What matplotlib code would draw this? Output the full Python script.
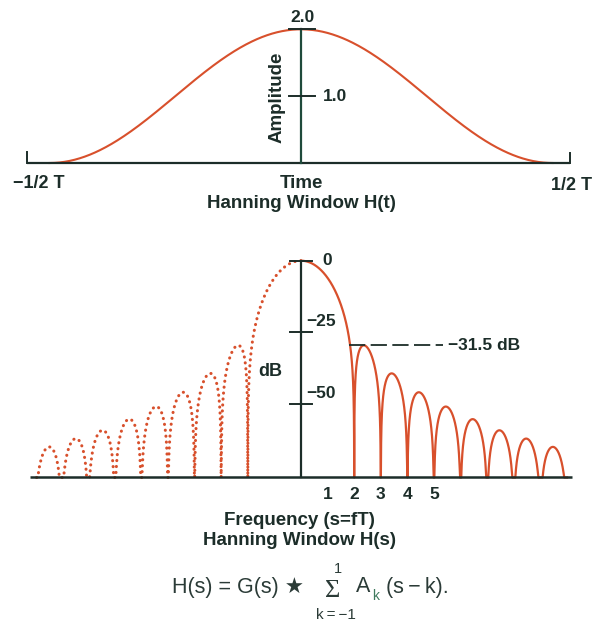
import numpy as np
import matplotlib.pyplot as plt

plt.rcParams['font.family'] = ['Liberation Sans', 'DejaVu Sans']

# values
window_peak = 2.0                 # H(t) = 1 + cos(2 pi t / T), T = 1
amp_ticks = [1.0, 2.0]
amp_tick_labels = ["1.0", "2.0"]
db_ticks = [0, -25, -50]
db_tick_labels = ["0", "\u221225", "\u221250"]
freq_ticks = [1, 2, 3, 4, 5]
k_terms = [-1, 0, 1]
a_k = [0.25, 0.5, 0.25]           # H(s) = G(s) * sum A_k (s - k)
lobe_zeros = [2, 3, 4, 5, 6, 7, 8, 9, 10]
sidelobe_peaks_db = [-29.6, -39.4, -46.0, -51.0, -55.4, -59.3, -62.2, -65.1]
floor_db = -75.8
sidelobe_label = "\u221231.5 dB"

ORANGE = "#d8502c"
DARK = "#1c2d29"
GREEN = "#1f4a3b"
FORM = "#2b3b37"


def hanning_db(s):
    w = sum(a * np.sinc(s - k) for a, k in zip(a_k, k_terms))
    w0 = sum(a * np.sinc(-k) for a, k in zip(a_k, k_terms))
    with np.errstate(divide="ignore"):
        return 20 * np.log10(np.abs(w) / w0 + 1e-30)


fig = plt.figure(figsize=(6, 6.25), dpi=100)

# ---------------- top: time window ----------------
ax1 = fig.add_axes([0, 1 - 215 / 625, 1, 215 / 625])
ax1.set_xlim(-301 / 503, 299 / 503)
ax1.set_ylim(-52 / 66.85, 163 / 66.85)
ax1.axis("off")

t = np.linspace(-0.5, 0.5, 600)
h = window_peak / 2 * (1 + np.cos(2 * np.pi * t))
ax1.plot(t, h, color=ORANGE, lw=1.5)

ax1.plot([-0.544, 0.534], [0, 0], color=DARK, lw=1.6, solid_capstyle="butt")
ax1.plot([-0.544, -0.544], [0, 0.17], color=DARK, lw=1.4)
ax1.plot([0.534, 0.534], [0, 0.15], color=DARK, lw=1.4)
ax1.plot([0, 0], [0, window_peak], color=GREEN, lw=1.6)
for v in amp_ticks:
    ax1.plot([-0.024, 0.028], [v, v], color=DARK, lw=1.4)
ax1.text(0.002, 2.17, amp_tick_labels[1], ha="center", va="center",
         fontsize=12.5, fontweight="bold", color=DARK)
ax1.text(0.044, 1.0, amp_tick_labels[0], ha="left", va="center",
         fontsize=12.5, fontweight="bold", color=DARK)
ax1.text(-0.048, 0.99, "Amplitude", rotation=90, ha="center", va="center",
         fontsize=13.5, fontweight="bold", color=DARK)
ax1.text(-0.521, -0.30, "\u22121/2 T", ha="center", va="center",
         fontsize=13, fontweight="bold", color=DARK)
ax1.text(0.537, -0.33, "1/2 T", ha="center", va="center",
         fontsize=13, fontweight="bold", color=DARK)
ax1.text(0.0, -0.30, "Time", ha="center", va="center",
         fontsize=13.5, fontweight="bold", color=DARK)
ax1.text(0.0, -0.60, "Hanning Window H(t)", ha="center", va="center",
         fontsize=13.5, fontweight="bold", color=DARK)

# ---------------- bottom: spectrum in dB ----------------
ax2 = fig.add_axes([0, 0, 1, 410 / 625])
ax2.set_xlim(-301 / 26.6, 299 / 26.6)
ax2.set_ylim(-(625 - 260.7) / 2.86, (260.7 - 215) / 2.86)
ax2.axis("off")

s = np.linspace(0, lobe_zeros[-1], 4001)
db = hanning_db(s)
for lo, hi, peak in zip(lobe_zeros[:-1], lobe_zeros[1:], sidelobe_peaks_db):
    m = (s >= lo) & (s <= hi)
    db[m] += peak - db[m].max()
db = np.maximum(db, floor_db)

ax2.plot(s, db, color=ORANGE, lw=1.6)
ax2.plot(-s, db, color=ORANGE, lw=2.2, linestyle=(0, (0.05, 1.9)),
         dash_capstyle="round")

ax2.plot([-10.19, 10.19], [floor_db, floor_db], color=DARK, lw=1.8,
         solid_capstyle="butt")
ax2.plot([0, 0], [floor_db, 0], color=DARK, lw=1.6)
for v in db_ticks:
    ax2.plot([-0.42, 0.42], [v, v], color=DARK, lw=1.4)
ax2.text(0.98, 0, db_tick_labels[0], ha="center", va="center",
         fontsize=12.5, fontweight="bold", color=DARK)
for v, lab in zip(db_ticks[1:], db_tick_labels[1:]):
    ax2.text(0.77, v + 3.6, lab, ha="center", va="center",
             fontsize=12.5, fontweight="bold", color=DARK)
ax2.text(-1.17, -38.8, "dB", ha="center", va="center",
         fontsize=13, fontweight="bold", color=DARK)

ax2.plot([1.80, 5.34], [sidelobe_peaks_db[0], sidelobe_peaks_db[0]],
         color=DARK, lw=1.3, linestyle=(0, (9, 3)))
ax2.text(5.53, sidelobe_peaks_db[0], sidelobe_label, ha="left", va="center",
         fontsize=12.5, fontweight="bold", color=DARK)

for f in freq_ticks:
    ax2.text(f, -81.6, str(f), ha="center", va="center",
             fontsize=12.5, fontweight="bold", color=DARK)
ax2.text(-0.04, -90.7, "Frequency (s=fT)", ha="center", va="center",
         fontsize=13.5, fontweight="bold", color=DARK)
ax2.text(-0.04, -97.7, "Hanning Window H(s)", ha="center", va="center",
         fontsize=13.5, fontweight="bold", color=DARK)


# ---------------- formula ----------------
def ftext(px, py, txt, color=FORM, **kw):
    fig.text(px / 600, 1 - py / 625, txt, va="center", color=color, **kw)


ftext(172, 587, "H(s) = G(s) \u2605", ha="left", fontsize=15.5)
ftext(333, 591, "\u03a3", ha="center", fontsize=19, family="Liberation Serif")
ftext(338, 569, "1", ha="center", fontsize=10.5)
ftext(336, 615, "k\u2009=\u2009\u22121", ha="center", fontsize=11)
ftext(356, 587, "A", ha="left", fontsize=15.5)
ftext(372, 596, "k", ha="left", fontsize=10, color="#3f7a5e")
ftext(386, 587, "(s\u2009\u2212\u2009k).", ha="left", fontsize=15.5)

fig.savefig("out.png", dpi=100)
